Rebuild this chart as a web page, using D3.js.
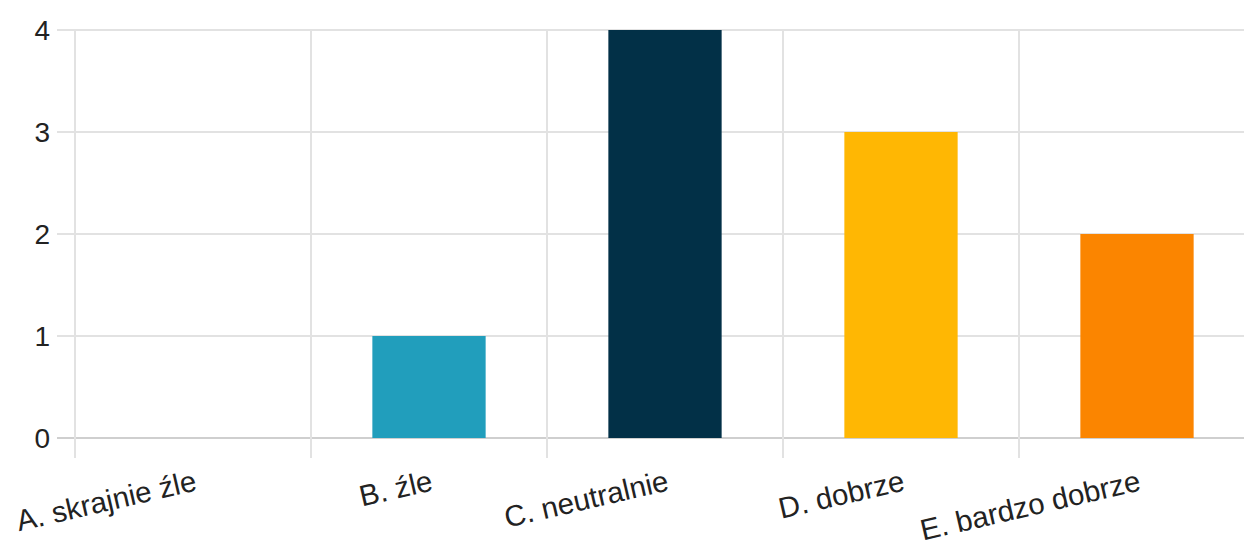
<!DOCTYPE html>
<html><head><meta charset="utf-8">
<script src="https://cdn.jsdelivr.net/npm/d3@7"></script>
<style>body{margin:0;background:#fff}svg{display:block}</style>
</head><body>
<svg id="c" width="1244" height="546"></svg>
<script>
const categories = ["A. skrajnie źle", "B. źle", "C. neutralnie", "D. dobrze", "E. bardzo dobrze"];
const values = [0, 1, 4, 3, 2];
const colors = ["#8ecae6", "#219ebc", "#023047", "#ffb703", "#fb8500"];
const yTicks = [0, 1, 2, 3, 4];

(function () {
const svg = d3.select("#c");
const mLeft = 75, mRight = 1255, mTop = 30, mBottom = 438;
const x = d3.scaleBand().domain(categories).range([mLeft, mRight]).paddingInner(0).paddingOuter(0);
const y = d3.scaleLinear().domain([0, 4]).range([mBottom, mTop]);
const font = "Liberation Sans, Arial, sans-serif";

// horizontal gridlines
svg.append("g").selectAll("line").data(yTicks).join("line")
  .attr("x1", 57).attr("x2", mRight)
  .attr("y1", d => y(d)).attr("y2", d => y(d))
  .attr("stroke", d => d === 0 ? "#cfcfcf" : "#e2e2e2").attr("stroke-width", 2);

// vertical gridlines (band boundaries)
svg.append("g").selectAll("line").data(categories).join("line")
  .attr("x1", d => x(d)).attr("x2", d => x(d))
  .attr("y1", mTop).attr("y2", 458)
  .attr("stroke", "#e2e2e2").attr("stroke-width", 2);

// bars
const bw = x.bandwidth() * 0.48;
svg.append("g").selectAll("rect").data(values).join("rect")
  .attr("x", (d, i) => x(categories[i]) + x.bandwidth() / 2 - bw / 2)
  .attr("width", bw)
  .attr("y", d => y(d))
  .attr("height", d => y(0) - y(d))
  .attr("fill", (d, i) => colors[i]);

// y tick labels
svg.append("g").selectAll("text").data(yTicks).join("text")
  .attr("x", 50).attr("y", d => y(d))
  .attr("dy", "0.36em")
  .attr("text-anchor", "end")
  .attr("font-family", font).attr("font-size", 28).attr("fill", "#222")
  .text(d => d);

// x labels rotated
svg.append("g").selectAll("text").data(categories).join("text")
  .attr("transform", d => `translate(${x(d) + x.bandwidth() / 2 + 5},490) rotate(-13)`)
  .attr("text-anchor", "end")
  .attr("font-family", font).attr("font-size", 29.5).attr("fill", "#222")
  .text(d => d);
})();
</script>
</body></html>
